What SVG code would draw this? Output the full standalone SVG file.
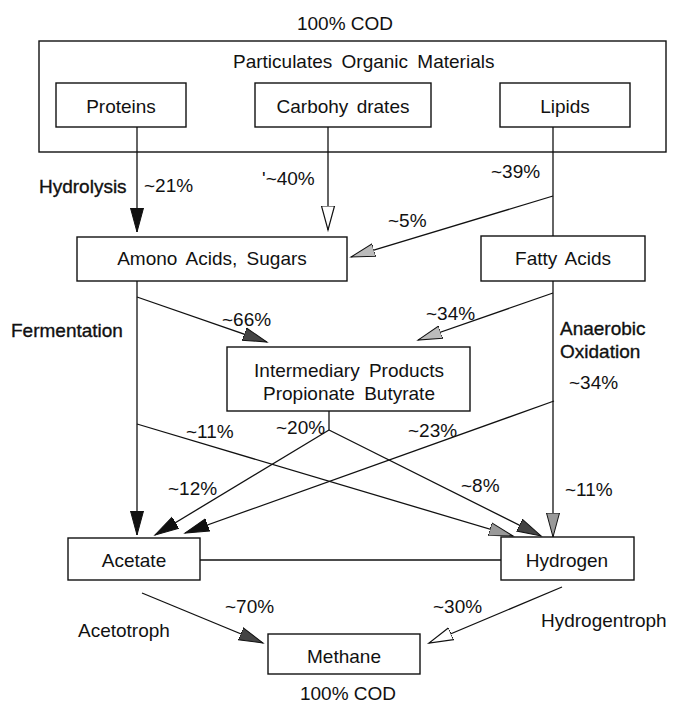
<svg xmlns="http://www.w3.org/2000/svg" width="674" height="710" viewBox="0 0 674 710">
<style>
text{font-family:"Liberation Sans",Arial,sans-serif;font-size:19px;fill:#111}
.b{stroke:#111;stroke-width:0.35}
.c{text-anchor:middle}
.box{fill:#fff;stroke:#111;stroke-width:1.4}
.ln{fill:none;stroke:#111;stroke-width:1.3}
</style>
<defs>
<marker id="ab" markerUnits="userSpaceOnUse" markerWidth="28" markerHeight="18" refX="24" refY="8" orient="auto" viewBox="0 0 28 16"><path d="M0,1.5 L24,8 L0,14.5 Z" fill="#111" stroke="#111" stroke-width="1"/></marker>
<marker id="ad" markerUnits="userSpaceOnUse" markerWidth="28" markerHeight="18" refX="24" refY="8" orient="auto" viewBox="0 0 28 16"><path d="M0,1.5 L24,8 L0,14.5 Z" fill="#444" stroke="#111" stroke-width="1"/></marker>
<marker id="ag" markerUnits="userSpaceOnUse" markerWidth="28" markerHeight="18" refX="24" refY="8" orient="auto" viewBox="0 0 28 16"><path d="M0,1.5 L24,8 L0,14.5 Z" fill="#999" stroke="#111" stroke-width="1"/></marker>
<marker id="al" markerUnits="userSpaceOnUse" markerWidth="28" markerHeight="18" refX="24" refY="8" orient="auto" viewBox="0 0 28 16"><path d="M0,1.5 L24,8 L0,14.5 Z" fill="#bbb" stroke="#111" stroke-width="1"/></marker>
<marker id="aw" markerUnits="userSpaceOnUse" markerWidth="28" markerHeight="18" refX="24" refY="8" orient="auto" viewBox="0 0 28 16"><path d="M0,1.5 L24,8 L0,14.5 Z" fill="#fff" stroke="#111" stroke-width="1.2"/></marker>
</defs>
<text class="c" x="345" y="30">100% COD</text>
<g id="particulates"><rect class="box" x="39" y="41" width="627" height="111"/><text x="233" y="68" word-spacing="4">Particulates Organic Materials</text></g>
<g id="proteins"><rect class="box" x="56" y="83" width="130" height="44"/><text class="c" x="121" y="113">Proteins</text></g>
<g id="carbohydrates"><rect class="box" x="255" y="83" width="176" height="44"/><text class="c" x="343" y="113" word-spacing="3">Carbohy drates</text></g>
<g id="lipids"><rect class="box" x="500" y="83" width="130" height="44"/><text class="c" x="565" y="113">Lipids</text></g>
<g id="amono"><rect class="box" x="77" y="237" width="270" height="44"/><text class="c" x="212" y="265" word-spacing="4">Amono Acids, Sugars</text></g>
<g id="fatty"><rect class="box" x="481" y="236" width="164" height="45"/><text class="c" x="563" y="265" word-spacing="3">Fatty Acids</text></g>
<g id="intermediary"><rect class="box" x="227" y="347" width="243" height="64"/><text class="c" x="349" y="377" word-spacing="4">Intermediary Products</text><text class="c" x="349" y="400" word-spacing="4">Propionate Butyrate</text></g>
<g id="acetate"><rect class="box" x="68" y="538" width="132" height="42"/><text class="c" x="134" y="567">Acetate</text></g>
<g id="hydrogen"><rect class="box" x="501" y="537" width="133" height="43"/><text class="c" x="567" y="567">Hydrogen</text></g>
<g id="methane"><rect class="box" x="268" y="634" width="152" height="40"/><text class="c" x="344" y="663">Methane</text></g>
<g id="connectors">
<path class="ln" d="M137,127 V232" marker-end="url(#ab)"/>
<path class="ln" d="M328,127 V230" marker-end="url(#aw)"/>
<path class="ln" d="M553,127 V236"/>
<path class="ln" d="M553,196 L351,257" marker-end="url(#al)"/>
<path class="ln" d="M137,281 V535" marker-end="url(#ab)"/>
<path class="ln" d="M137,297 L267,342" marker-end="url(#ad)"/>
<path class="ln" d="M553,281 V537" marker-end="url(#ag)"/>
<path class="ln" d="M553,293 L418,340" marker-end="url(#al)"/>
<path class="ln" d="M329,411 V430"/>
<path class="ln" d="M329,430 L155,535" marker-end="url(#ab)"/>
<path class="ln" d="M329,430 L541,536" marker-end="url(#ad)"/>
<path class="ln" d="M554,401 L185,533" marker-end="url(#ab)"/>
<path class="ln" d="M137,424 L513,536" marker-end="url(#ag)"/>
<path class="ln" d="M200,560 H501"/>
<path class="ln" d="M142,593 L263,643" marker-end="url(#ad)"/>
<path class="ln" d="M562,587 L429,643" marker-end="url(#aw)"/>
</g>
<text class="b" x="39" y="193">Hydrolysis</text>
<text x="144" y="192">~21%</text>
<text x="262" y="185">'~40%</text>
<text x="491" y="178">~39%</text>
<text x="388" y="227">~5%</text>
<text x="222" y="326">~66%</text>
<text x="426" y="320">~34%</text>
<text class="b" x="11" y="337">Fermentation</text>
<text class="b" x="560" y="335">Anaerobic</text>
<text class="b" x="560" y="358">Oxidation</text>
<text x="569" y="389">~34%</text>
<text x="186" y="438">~11%</text>
<text x="276" y="434">~20%</text>
<text x="408" y="437">~23%</text>
<text x="168" y="495">~12%</text>
<text x="461" y="492">~8%</text>
<text x="565" y="496">~11%</text>
<text x="225" y="613">~70%</text>
<text x="433" y="613">~30%</text>
<text x="78" y="637">Acetotroph</text>
<text x="541" y="627">Hydrogentroph</text>
<text class="c" x="348" y="700">100% COD</text>
</svg>
